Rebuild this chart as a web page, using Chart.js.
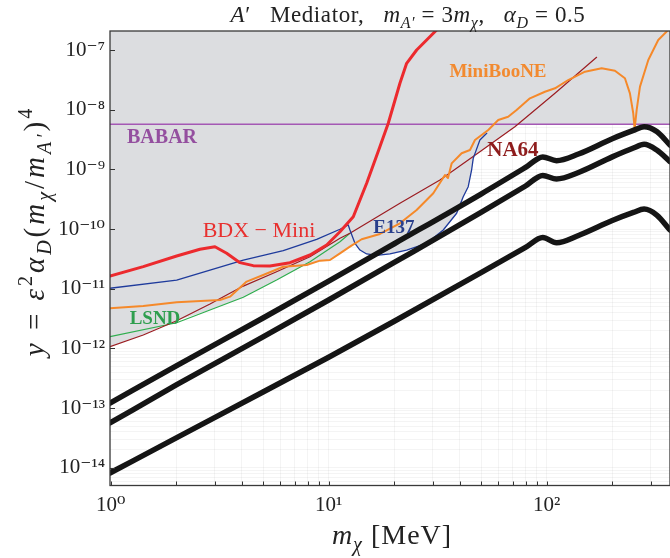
<!DOCTYPE html>
<html>
<head>
<meta charset="utf-8">
<script src="https://cdn.jsdelivr.net/npm/chart.js@4.4.1/dist/chart.umd.min.js"></script>
<style>
  html, body { margin: 0; padding: 0; background: #fff; }
</style>
</head>
<body>
<canvas id="boundChart" width="670" height="558"></canvas>
<script>
// axis ranges and tick labels
const xMin = 0.993;
const xMax = 368;
const yMin = 5.07e-15;
const yMax = 2.08e-7;
const xTickValues = [1, 10, 100];
const xTickLabels = ['10⁰', '10¹', '10²'];
const yTickValues = [1e-14, 1e-13, 1e-12, 1e-11, 1e-10, 1e-9, 1e-8, 1e-7];
const yTickLabels = ['10⁻¹⁴', '10⁻¹³', '10⁻¹²', '10⁻¹¹', '10⁻¹⁰', '10⁻⁹', '10⁻⁸', '10⁻⁷'];

// thick black projection curves
const blackMass = [0.993, 2, 5, 10, 20, 50, 80, 96, 111, 140, 200, 250, 280, 320, 368];
const blackTop = [1.22e-13, 5.12e-13, 3.24e-12, 1.34e-11, 5.68e-11, 3.87e-10, 1.08e-9, 1.62e-9, 1.40e-9, 1.81e-9, 3.26e-9, 4.49e-9, 5.19e-9, 4.30e-9, 2.56e-9];
const blackMid = [5.65e-14, 2.45e-13, 1.56e-12, 6.49e-12, 2.76e-11, 1.90e-10, 5.27e-10, 7.91e-10, 6.91e-10, 8.87e-10, 1.62e-9, 2.28e-9, 2.63e-9, 2.11e-9, 1.35e-9];
const blackLow = [8.22e-15, 3.18e-14, 1.87e-13, 7.13e-13, 2.86e-12, 1.86e-11, 4.93e-11, 7.23e-11, 5.92e-11, 7.82e-11, 1.39e-10, 1.90e-10, 2.17e-10, 1.72e-10, 9.66e-11];

// BDX-Mini
const bdxMass = [0.993, 1.411, 2.008, 2.568, 3.009, 3.405, 3.918, 4.51, 5.38, 6.645, 8.21, 9.79, 11.27, 12.97, 14.94, 17.18, 18.77, 21.23, 22.79, 25.33, 31.28];
const bdxY = [1.64e-11, 2.35e-11, 3.54e-11, 4.59e-11, 5.07e-11, 3.93e-11, 2.74e-11, 2.44e-11, 2.41e-11, 2.74e-11, 3.68e-11, 5.42e-11, 9.04e-11, 1.61e-10, 5.85e-10, 2.40e-9, 5.92e-9, 2.77e-8, 5.98e-8, 1.0e-7, 2.16e-7];

// E137
const e137Mass = [0.993, 2.008, 2.855, 4.06, 6.19, 8.81, 11.27, 12.30, 12.52, 13.20, 13.92, 14.94, 16.60, 19.11, 22.79, 28.15, 33.55, 38.65, 41.43, 43.67, 45.27, 46.05, 49.4, 53.1];
const e137Y = [1.02e-11, 1.40e-11, 2.06e-11, 3.03e-11, 4.35e-11, 6.74e-11, 9.93e-11, 1.17e-10, 9.66e-11, 5.78e-11, 4.46e-11, 3.83e-11, 3.64e-11, 3.83e-11, 4.46e-11, 5.78e-11, 9.66e-11, 1.84e-10, 3.49e-10, 5.13e-10, 9.77e-10, 1.53e-9, 3.10e-9, 4.02e-9];

// NA64
const na64Mass = [0.993, 1.411, 2.008, 2.855, 4.06, 5.77, 8.21, 11.27, 12.52, 21.23, 32.4, 49.4, 71.5, 109.2, 169.5];
const na64Y = [1.07e-12, 1.68e-12, 2.92e-12, 5.56e-12, 1.11e-11, 1.93e-11, 3.45e-11, 7.02e-11, 8.51e-11, 2.70e-10, 6.64e-10, 1.98e-9, 5.19e-9, 1.88e-8, 7.55e-8];

// LSND
const lsndMass = [0.993, 2.008, 2.855, 4.06, 5.77, 8.21, 11.27, 12.52];
const lsndY = [1.58e-12, 2.70e-12, 4.42e-12, 7.21e-12, 1.40e-11, 2.84e-11, 6.15e-11, 8.51e-11];

// MiniBooNE
const mbMass = [0.993, 1.411, 2.008, 3.173, 3.526, 4.205, 5.01, 6.19, 7.93, 9.12, 10.14, 11.27, 12.52, 14.17, 17.19, 21.23, 25.33, 30.2, 34.17, 35.26, 36.66, 40.74, 44.5, 46.9, 53.97, 59.97, 66.6, 72.8, 83.8, 98.2, 109.2, 125.6, 149.9, 178.8, 205.7, 228.6, 241, 249.6, 253.3, 258.8, 268, 292.6, 325, 361];
const mbY = [4.71e-12, 5.15e-12, 5.94e-12, 6.49e-12, 7.38e-12, 1.32e-11, 1.70e-11, 2.34e-11, 2.50e-11, 2.96e-11, 3.04e-11, 3.93e-11, 5.07e-11, 6.75e-11, 8.28e-11, 1.25e-10, 2.09e-10, 3.98e-10, 8.05e-10, 7.18e-10, 1.26e-9, 1.86e-9, 2.11e-9, 3.10e-9, 4.57e-9, 6.72e-9, 7.63e-9, 9.89e-9, 1.55e-8, 2.00e-8, 2.28e-8, 3.14e-8, 4.33e-8, 4.93e-8, 4.50e-8, 3.36e-8, 1.88e-8, 8.71e-9, 4.75e-9, 9.89e-9, 2.43e-8, 6.79e-8, 1.47e-7, 2.16e-7];

// BABAR
const babarMass = [0.993, 368];
const babarY = [5.69e-9, 5.69e-9];

// lower edge of the grey excluded region
const edgeMass = [0.993, 1.411, 1.82, 2.855, 4.06, 5.77, 7.70, 7.93, 9.12, 10.14, 11.27, 12.52, 13.2, 13.92, 14.94, 16.6, 19.11, 22.79, 28.15, 33.55, 38.65, 41.43, 43.67, 45.27, 46.4, 49.4, 71.5, 75, 368];
const edgeY = [1.07e-12, 1.68e-12, 2.63e-12, 4.42e-12, 7.21e-12, 1.40e-11, 2.47e-11, 2.50e-11, 2.96e-11, 3.04e-11, 3.93e-11, 5.07e-11, 5.78e-11, 4.46e-11, 3.83e-11, 3.64e-11, 3.83e-11, 4.46e-11, 5.78e-11, 9.66e-11, 1.84e-10, 3.49e-10, 5.13e-10, 9.77e-10, 1.67e-9, 1.98e-9, 5.19e-9, 5.69e-9, 5.69e-9];

// curve names written on the plot, at data coordinates
const curveNames = ['BABAR', 'BDX − Mini', 'E137', 'MiniBooNE', 'NA64', 'LSND'];
const curveNameMass = [1.72, 4.79, 19.9, 59.8, 70.0, 1.597];
const curveNameY = [3.36e-9, 9.3e-11, 1.04e-10, 4.28e-8, 2.03e-9, 3.12e-12];

const serif = '"Liberation Serif", "DejaVu Serif", serif';
const nameStyles = [
    { color: '#944f9f', font: 'bold 20px ' + serif },
    { color: '#e8302f', font: '22px ' + serif },
    { color: '#2a3f8c', font: 'bold 19px ' + serif },
    { color: '#f28a30', font: 'bold 19px ' + serif },
    { color: '#8e1c1c', font: 'bold 21px ' + serif },
    { color: '#2e9e4e', font: 'bold 19px ' + serif }
];

function toPoints(xs, ys){
    return xs.map((x, i) => ({ x: x, y: ys[i] }));
}

function lineSet({ xs, ys, color, width, order, smooth }){
    return {
        data: toPoints(xs, ys),
        borderColor: color,
        borderWidth: width,
        pointRadius: 0,
        fill: false,
        tension: 0,
        cubicInterpolationMode: smooth ? 'monotone' : 'default',
        borderCapStyle: 'round',
        borderJoinStyle: 'round',
        order: order
    };
}

function logTicks(min, max){
    const ticks = [];
    for (let e = Math.floor(Math.log10(min)); e <= Math.ceil(Math.log10(max)); e++) {
        for (let m = 1; m <= 9; m++) {
            const v = m * Math.pow(10, e);
            if (v >= min && v <= max) ticks.push({ value: v });
        }
    }
    return ticks;
}

function decadeLabel(value, values, labels){
    const i = values.findIndex(t => Math.abs(Math.log10(t) - Math.log10(value)) < 1e-6);
    return i < 0 ? '' : labels[i];
}

function drawRich(ctx, parts, size, x, y, spacing){
    const small = Math.round(size * 0.7);
    const fontFor = (p) => (p.it ? 'italic ' : '') + (p.pos ? small : size) + 'px ' + serif;
    ctx.letterSpacing = (spacing || 0) + 'px';
    let total = 0;
    parts.forEach(p => { ctx.font = fontFor(p); total += ctx.measureText(p.t).width; });
    let cx = x - total / 2;
    parts.forEach(p => {
        ctx.font = fontFor(p);
        const dy = p.pos === 1 ? -size * 0.42 : p.pos === -1 ? size * 0.24 : 0;
        ctx.fillText(p.t, cx, y + dy);
        cx += ctx.measureText(p.t).width;
    });
    ctx.letterSpacing = '0px';
}

const titleParts = [
    { t: 'A', it: 1 }, { t: '′' }, { t: '   Mediator,   ' },
    { t: 'm', it: 1 }, { t: 'A′', it: 1, pos: -1 }, { t: ' = 3' },
    { t: 'm', it: 1 }, { t: 'χ', it: 1, pos: -1 }, { t: ',   ' },
    { t: 'α', it: 1 }, { t: 'D', it: 1, pos: -1 }, { t: ' = 0.5' }
];
const yTitleParts = [
    { t: 'y', it: 1 }, { t: ' = ' }, { t: 'ε', it: 1 }, { t: '2', pos: 1 },
    { t: 'α', it: 1 }, { t: 'D', it: 1, pos: -1 }, { t: '(' },
    { t: 'm', it: 1 }, { t: 'χ', it: 1, pos: -1 }, { t: '/' },
    { t: 'm', it: 1 }, { t: 'A′', it: 1, pos: -1 }, { t: ')' }, { t: '4', pos: 1 }
];
const xTitleParts = [
    { t: 'm', it: 1 }, { t: 'χ', it: 1, pos: -1 }, { t: ' [MeV]' }
];

const overlay = {
    id: 'overlay',
    afterDraw(chart){
        const ctx = chart.ctx;
        const area = chart.chartArea;
        const xs = chart.scales.x;
        const ys = chart.scales.y;
        ctx.save();

        // inward tick marks
        ctx.strokeStyle = '#333';
        ctx.lineWidth = 1;
        ctx.beginPath();
        xs.ticks.forEach(t => {
            const px = Math.round(xs.getPixelForValue(t.value)) + 0.5;
            ctx.moveTo(px, area.bottom);
            ctx.lineTo(px, area.bottom - 4);
        });
        yTickValues.forEach(v => {
            const py = Math.round(ys.getPixelForValue(v)) + 0.5;
            ctx.moveTo(area.left, py);
            ctx.lineTo(area.left + 5, py);
        });
        ctx.stroke();

        // frame
        ctx.strokeStyle = '#3a3a3a';
        ctx.lineWidth = 1.3;
        ctx.strokeRect(area.left, area.top, area.right - area.left, area.bottom - area.top);

        // curve names
        ctx.textAlign = 'center';
        ctx.textBaseline = 'middle';
        curveNames.forEach((name, i) => {
            ctx.fillStyle = nameStyles[i].color;
            ctx.font = nameStyles[i].font;
            ctx.fillText(name, xs.getPixelForValue(curveNameMass[i]), ys.getPixelForValue(curveNameY[i]));
        });

        // titles
        ctx.fillStyle = '#222';
        ctx.textAlign = 'left';
        ctx.textBaseline = 'alphabetic';
        drawRich(ctx, titleParts, 23, 408, 22, 0.6);
        drawRich(ctx, xTitleParts, 28, 392, 544, 1);
        ctx.translate(44, 231);
        ctx.rotate(-Math.PI / 2);
        drawRich(ctx, yTitleParts, 29, 0, 0, 3);
        ctx.restore();
    }
};

const gridColor = 'rgba(0, 0, 0, 0.045)';
const tickFont = { family: serif, size: 21 };

const boundChart = new Chart(document.getElementById('boundChart'), {
    type: 'line',
    data: {
        datasets: [
            { data: toPoints(edgeMass, edgeY), fill: 'end', backgroundColor: '#dcdde0', borderWidth: 0, pointRadius: 0, tension: 0, order: 20 },
            lineSet({ xs: babarMass, ys: babarY, color: '#a458b4', width: 1.4, order: 9 }),
            lineSet({ xs: lsndMass, ys: lsndY, color: '#2fae4e', width: 1.2, order: 8 }),
            lineSet({ xs: na64Mass, ys: na64Y, color: '#9c1d22', width: 1.2, order: 7 }),
            lineSet({ xs: e137Mass, ys: e137Y, color: '#1f3b9c', width: 1.3, order: 6 }),
            lineSet({ xs: mbMass, ys: mbY, color: '#f5892a', width: 2, order: 5 }),
            lineSet({ xs: bdxMass, ys: bdxY, color: '#ec2a2e', width: 3, order: 4 }),
            lineSet({ xs: blackMass, ys: blackTop, color: '#151515', width: 5.5, order: 1, smooth: true }),
            lineSet({ xs: blackMass, ys: blackMid, color: '#151515', width: 5.5, order: 1, smooth: true }),
            lineSet({ xs: blackMass, ys: blackLow, color: '#151515', width: 5.5, order: 1, smooth: true })
        ]
    },
    options: {
        responsive: false,
        animation: false,
        events: [],
        layout: { padding: { top: 31, right: 0, left: 0, bottom: 0 } },
        plugins: { legend: { display: false }, tooltip: { enabled: false }, title: { display: false } },
        scales: {
            x: {
                type: 'logarithmic',
                min: xMin,
                max: xMax,
                afterBuildTicks: (scale) => { scale.ticks = logTicks(xMin, xMax); },
                afterFit: (scale) => { scale.height = 72.5; },
                grid: { color: gridColor, drawTicks: false },
                border: { display: false },
                ticks: {
                    autoSkip: false,
                    maxRotation: 0,
                    padding: 7,
                    color: '#222',
                    font: tickFont,
                    callback: (value) => decadeLabel(value, xTickValues, xTickLabels)
                }
            },
            y: {
                type: 'logarithmic',
                min: yMin,
                max: yMax,
                afterBuildTicks: (scale) => { scale.ticks = logTicks(yMin, yMax); },
                afterFit: (scale) => { scale.width = 110; },
                grid: { color: gridColor, drawTicks: false },
                border: { display: false },
                ticks: {
                    autoSkip: false,
                    padding: 5,
                    color: '#222',
                    font: tickFont,
                    callback: (value) => decadeLabel(value, yTickValues, yTickLabels)
                }
            }
        }
    },
    plugins: [overlay]
});
</script>
</body>
</html>
